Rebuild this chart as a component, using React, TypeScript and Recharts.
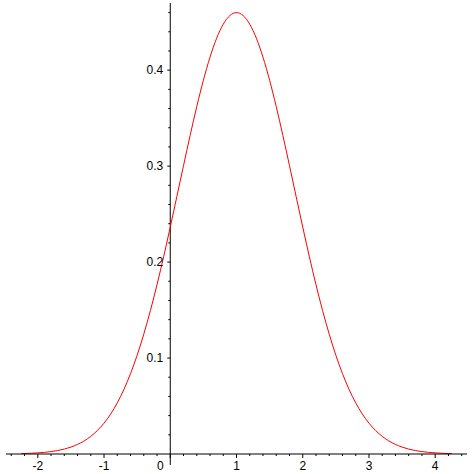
import React from 'react';
import { LineChart, Line, XAxis, YAxis, ReferenceLine, ReferenceDot } from 'recharts';

const xValues = [
  -2.25, -2.2, -2.1, -2.0, -1.9, -1.8, -1.7, -1.6, -1.5, -1.4, -1.3, -1.2, -1.1, -1.0,
  -0.9, -0.8, -0.7, -0.6, -0.5, -0.4, -0.3, -0.2, -0.1, 0.0, 0.1, 0.2, 0.3, 0.4, 0.5,
  0.6, 0.7, 0.8, 0.9, 1.0, 1.1, 1.2, 1.3, 1.4, 1.5, 1.6, 1.7, 1.8, 1.9, 2.0, 2.1, 2.2,
  2.3, 2.4, 2.5, 2.6, 2.7, 2.8, 2.9, 3.0, 3.1, 3.2, 3.3, 3.4, 3.5, 3.6, 3.7, 3.8, 3.9,
  4.0, 4.1, 4.2, 4.25,
];

const yValues = [
  0.0004, 0.0005, 0.0008, 0.0012, 0.0017, 0.0025, 0.0036, 0.0051, 0.0072, 0.01, 0.0136,
  0.0184, 0.0245, 0.0321, 0.0416, 0.0533, 0.0672, 0.0838, 0.1029, 0.1249, 0.1494, 0.1765,
  0.2056, 0.2365, 0.2684, 0.3005, 0.332, 0.362, 0.3895, 0.4135, 0.4333, 0.4479, 0.4569,
  0.46, 0.4569, 0.4479, 0.4333, 0.4135, 0.3895, 0.362, 0.332, 0.3005, 0.2684, 0.2365,
  0.2056, 0.1765, 0.1494, 0.1249, 0.1029, 0.0838, 0.0672, 0.0533, 0.0416, 0.0321, 0.0245,
  0.0184, 0.0136, 0.01, 0.0072, 0.0051, 0.0036, 0.0025, 0.0017, 0.0012, 0.0008, 0.0005,
  0.0004,
];

const xTicks = [
  -2.4, -2.2, -2, -1.8, -1.6, -1.4, -1.2, -1, -0.8, -0.6, -0.4, -0.2, 0, 0.2, 0.4, 0.6,
  0.8, 1, 1.2, 1.4, 1.6, 1.8, 2, 2.2, 2.4, 2.6, 2.8, 3, 3.2, 3.4, 3.6, 3.8, 4, 4.2, 4.4,
];
const xMajor = [-2, -1, 0, 1, 2, 3, 4];

const yMinorTicks = [
  0.02, 0.04, 0.06, 0.08, 0.12, 0.14, 0.16, 0.18, 0.22, 0.24, 0.26, 0.28, 0.32, 0.34,
  0.36, 0.38, 0.42, 0.44, 0.46,
];
const yMajorTicks = [0.1, 0.2, 0.3, 0.4];
const yLabels = ['0.1', '0.2', '0.3', '0.4'];

const data = xValues.map((x, i) => ({ x, y: yValues[i] }));

const FONT = '"Liberation Sans", Arial, sans-serif';

const XTick = (props: any) => {
  const { x, y, payload } = props;
  const v = Math.round(payload.value * 10) / 10;
  const isMajor = xMajor.includes(v);
  return (
    <g>
      <line x1={x} y1={y} x2={x} y2={y + (isMajor ? 4 : 2)} stroke="#000" strokeWidth={1} />
      {isMajor && (
        <text
          x={v === 0 ? x - 10 : x}
          y={y + 16}
          textAnchor="middle"
          fontFamily={FONT}
          fontSize={12}
          fill="#000"
        >
          {String(v)}
        </text>
      )}
    </g>
  );
};

export default function App() {
  return (
    <div style={{ position: 'absolute', left: 0, top: 0, background: '#fff' }}>
      <LineChart
        width={474}
        height={474}
        data={data}
        margin={{ top: 3, right: 7, left: 6, bottom: 0 }}
      >
        <XAxis
          dataKey="x"
          type="number"
          domain={[-2.48, 4.48]}
          ticks={xTicks}
          interval={0}
          height={20}
          tickSize={0}
          tickMargin={0}
          tickLine={false}
          axisLine={{ stroke: '#000', strokeWidth: 1 }}
          tick={<XTick />}
          allowDataOverflow
        />
        <YAxis hide type="number" domain={[0, 0.47]} allowDataOverflow />
        <ReferenceLine
          segment={[
            { x: 0, y: -0.0115 },
            { x: 0, y: 0.47 },
          ]}
          stroke="#000"
          strokeWidth={1}
          ifOverflow="visible"
        />
        {yMinorTicks.map((v) => (
          <ReferenceLine
            key={'m' + v}
            segment={[
              { x: -0.03, y: v },
              { x: 0, y: v },
            ]}
            stroke="#000"
            strokeWidth={1}
            ifOverflow="visible"
          />
        ))}
        {yMajorTicks.map((v) => (
          <ReferenceLine
            key={'M' + v}
            segment={[
              { x: -0.045, y: v },
              { x: 0, y: v },
            ]}
            stroke="#000"
            strokeWidth={1}
            ifOverflow="visible"
          />
        ))}
        {yMajorTicks.map((v, i) => (
          <ReferenceDot
            key={'L' + v}
            x={0}
            y={v}
            r={0}
            fill="none"
            stroke="none"
            ifOverflow="visible"
            label={{
              value: yLabels[i],
              position: 'left',
              offset: 7,
              fill: '#000',
              fontSize: 12,
              fontFamily: FONT,
            }}
          />
        ))}
        <Line
          type="monotone"
          dataKey="y"
          stroke="#ff0000"
          strokeWidth={1}
          dot={false}
          isAnimationActive={false}
        />
      </LineChart>
    </div>
  );
}
